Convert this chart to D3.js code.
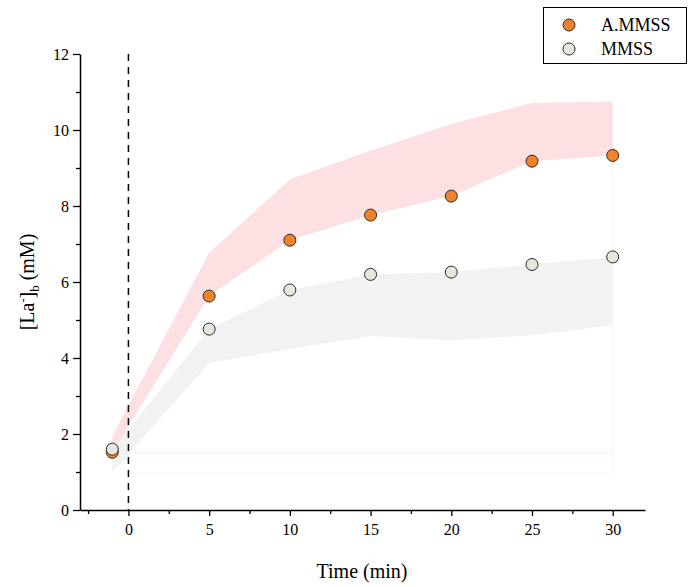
<!DOCTYPE html>
<html><head><meta charset="utf-8">
<script src="https://cdn.jsdelivr.net/npm/d3@7"></script>
<style>body{margin:0;background:#fff}svg{display:block}svg text{font-family:'Liberation Serif',serif !important}</style>
</head><body><svg id="c" width="699" height="587"></svg>
<script>
const times = [-1, 5, 10, 15, 20, 25, 30];
const ammss = [1.52, 5.63, 7.1, 7.76, 8.26, 9.18, 9.33];
const ammssUpper = [1.95, 6.77, 8.70, 9.46, 10.16, 10.71, 10.75];
const mmss = [1.6, 4.76, 5.79, 6.2, 6.26, 6.46, 6.66];
const mmssLower = [0.98, 3.87, 4.23, 4.58, 4.47, 4.6, 4.86];
const xTicks = [0, 5, 10, 15, 20, 25, 30];
const yTicks = [0, 2, 4, 6, 8, 10, 12];
const seriesNames = ["A.MMSS", "MMSS"];
const FONT = "Liberation Serif";

const svg = d3.select("#c");
const x = d3.scaleLinear().domain([-3, 32]).range([80, 645]);
const y = d3.scaleLinear().domain([0, 12]).range([510, 54]);

svg.append("path")
  .attr("d", d3.area().x((d,i)=>x(times[i])).y0((d,i)=>y(ammss[i])).y1((d,i)=>y(ammssUpper[i]))(times))
  .attr("fill", "#fde0e1");
svg.append("path")
  .attr("d", d3.area().x((d,i)=>x(times[i])).y0((d,i)=>y(mmssLower[i])).y1((d,i)=>y(mmss[i]))(times))
  .attr("fill", "#f2f2f2");

svg.append("line").attr("x1", x(0)).attr("x2", x(30)).attr("y1", y(ammss[0])).attr("y2", y(ammss[0]))
  .attr("stroke", "#fdeeee").attr("stroke-width", 1);
svg.append("line").attr("x1", x(0)).attr("x2", x(30)).attr("y1", y(mmssLower[0])).attr("y2", y(mmssLower[0]))
  .attr("stroke", "#f6f6f6").attr("stroke-width", 1);
svg.append("line").attr("x1", x(30)).attr("x2", x(30)).attr("y1", y(mmssLower[0])).attr("y2", y(ammssUpper[6]))
  .attr("stroke", "#f5f2f2").attr("stroke-width", 1);

svg.append("line").attr("x1", x(0)).attr("x2", x(0)).attr("y1", y(12)).attr("y2", y(0))
  .attr("stroke", "#000").attr("stroke-width", 1.5).attr("stroke-dasharray", "7,6");

const gx = svg.append("g").attr("transform", "translate(0,510)");
gx.call(d3.axisBottom(x).tickValues(xTicks).tickSize(6).tickSizeOuter(0).tickPadding(8));
gx.attr("font-family", FONT).attr("font-size", 16);
gx.append("g").call(d3.axisBottom(x).tickValues(d3.range(-2.5, 32, 5)).tickSize(4).tickFormat(""))
  .select(".domain").remove();
gx.select(".domain").attr("stroke-width", 1.5);
gx.selectAll(".tick line").attr("stroke-width", 1.3);
gx.selectAll(".tick text").attr("font-family", FONT).attr("font-size", 16).attr("fill", "#000");

const gy = svg.append("g").attr("transform", "translate(80,0)");
gy.call(d3.axisLeft(y).tickValues(yTicks).tickSize(7).tickSizeOuter(0).tickPadding(4));
gy.attr("font-family", FONT).attr("font-size", 16);
gy.append("g").call(d3.axisLeft(y).tickValues(d3.range(1, 12, 2)).tickSize(4).tickFormat(""))
  .select(".domain").remove();
gy.select(".domain").attr("stroke-width", 1.5);
gy.selectAll(".tick line").attr("stroke-width", 1.3);
gy.selectAll(".tick text").attr("font-family", FONT).attr("font-size", 16).attr("fill", "#000");

const r = 6;
svg.append("g").selectAll("circle").data(times).join("circle")
  .attr("cx", (d)=>x(d)).attr("cy", (d,i)=>y(ammss[i])).attr("r", r)
  .attr("fill", "#f0832a").attr("stroke", "#2a2a2a").attr("stroke-width", 1);
svg.append("g").selectAll("circle").data(times).join("circle")
  .attr("cx", (d)=>x(d)).attr("cy", (d,i)=>y(mmss[i])).attr("r", r)
  .attr("fill", "#e6e6dc").attr("stroke", "#2a2a2a").attr("stroke-width", 1);

svg.append("text").attr("x", 362).attr("y", 578).attr("text-anchor", "middle")
  .attr("font-family", FONT).attr("font-size", 20).text("Time (min)");
const yt = svg.append("text").attr("transform", "translate(34,282) rotate(-90)").attr("text-anchor", "middle")
  .attr("font-family", FONT).attr("font-size", 20);
yt.append("tspan").text("[La");
yt.append("tspan").attr("dy", -7).attr("font-size", 12).text("-");
yt.append("tspan").attr("dy", 7).text("]");
yt.append("tspan").attr("dy", 5).attr("font-size", 13).text("b");
yt.append("tspan").attr("dy", -5).text(" (mM)");

const lg = svg.append("g");
lg.append("rect").attr("x", 543.5).attr("y", 7.5).attr("width", 143).attr("height", 56)
  .attr("fill", "#fff").attr("stroke", "#000").attr("stroke-width", 1);
const fills = ["#f0832a", "#e6e6dc"];
seriesNames.forEach((n, i) => {
  lg.append("circle").attr("cx", 569).attr("cy", 25 + i*24).attr("r", 6)
    .attr("fill", fills[i]).attr("stroke", "#2a2a2a").attr("stroke-width", 1);
  lg.append("text").attr("x", 601).attr("y", 31 + i*24).attr("font-family", FONT)
    .attr("font-size", 18).text(n);
});
</script></body></html>
